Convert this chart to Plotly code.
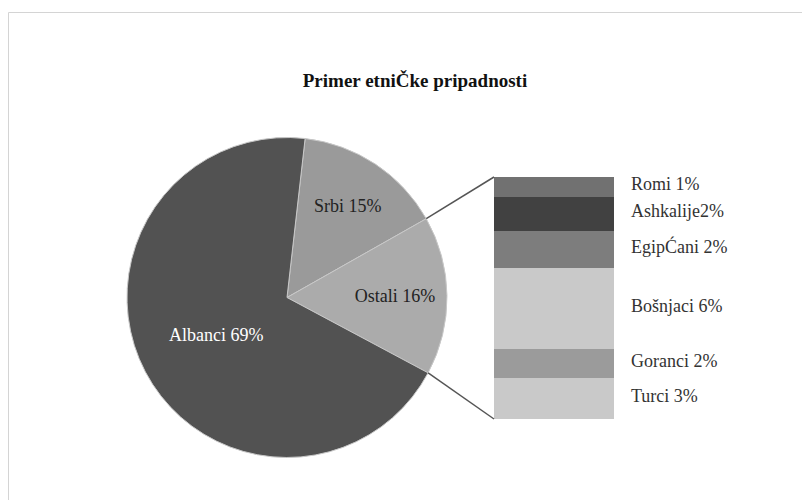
import math
import plotly.graph_objects as go

# main pie
pie_labels = ['Srbi', 'Ostali', 'Albanci']
pie_values = [15, 16, 69]
pie_colors = ['#9a9a9a', '#ababab', '#525252']

# breakdown of "Ostali" (bar heights, labels as printed)
bar_labels = ['Turci 3%', 'Goranci 2%', 'Bošnjaci 6%', 'EgipĆani 2%', 'Ashkalije2%', 'Romi 1%']
bar_values = [2.7, 1.9, 5.4, 2.4, 2.3, 1.3]
bar_colors = ['#c9c9c9', '#9b9b9b', '#c9c9c9', '#7d7d7d', '#414141', '#717171']

W, H = 810, 500
FONT = 'Liberation Serif'
OFF = 8  # page body margin, positions below are screen px minus this

# pie placement (paper)
pie_cx, pie_cy, pie_r = 287 - OFF, 297.5 - OFF, 160
pie_dom_x = [(pie_cx - pie_r) / W, (pie_cx + pie_r) / W]
pie_dom_y = [1 - (pie_cy + pie_r) / H, 1 - (pie_cy - pie_r) / H]
rotation = 6.5

# bar placement (paper)
bar_left, bar_right, bar_top, bar_bottom = 494 - OFF, 614 - OFF, 177 - OFF, 419 - OFF
bar_dom_x = [bar_left / W, bar_right / W]
bar_dom_y = [1 - bar_bottom / H, 1 - bar_top / H]

fig = go.Figure()

fig.add_trace(go.Pie(
    labels=pie_labels,
    values=pie_values,
    sort=False,
    direction='clockwise',
    rotation=rotation,
    marker=dict(colors=pie_colors, line=dict(color='#c8c8c8', width=1)),
    texttemplate='%{label} %{percent:.0%}',
    textposition='inside',
    insidetextorientation='horizontal',
    insidetextfont=dict(family=FONT, size=18, color=['#222222', '#222222', '#ffffff']),
    domain=dict(x=pie_dom_x, y=pie_dom_y),
    showlegend=False,
    hoverinfo='label+percent',
))

for lab, val, col in zip(bar_labels, bar_values, bar_colors):
    fig.add_trace(go.Bar(
        x=[0], y=[val], name=lab,
        marker=dict(color=col, line=dict(width=0)),
        width=1,
        showlegend=False,
        hovertemplate=lab + '<extra></extra>',
    ))

# labels next to the stack
cum = 0
for lab, val in zip(bar_labels, bar_values):
    fig.add_annotation(
        x=0.5, y=cum + val / 2, xref='x', yref='y',
        text=lab, showarrow=False, xanchor='left', xshift=15, yshift=3,
        font=dict(family=FONT, size=18, color='#333333'),
    )
    cum += val

# connector lines from the "Ostali" slice edges to the stack corners
total = sum(pie_values)
a0 = math.radians(rotation + 360 * pie_values[0] / total)
a1 = math.radians(rotation + 360 * (pie_values[0] + pie_values[1]) / total)
for ang, by in [(a0, bar_top), (a1, bar_bottom)]:
    px = pie_cx + pie_r * math.sin(ang)
    py = pie_cy - pie_r * math.cos(ang)
    fig.add_shape(type='line', xref='paper', yref='paper',
                  x0=px / W, y0=1 - py / H, x1=bar_left / W, y1=1 - by / H,
                  line=dict(color='#555555', width=1.5))

# chart frame
fig.add_shape(type='rect', xref='paper', yref='paper',
              x0=0.5 / W, y0=-0.05, x1=1.05, y1=1 - 4.5 / H,
              line=dict(color='#d4d4d4', width=1), layer='below')

fig.update_layout(
    width=W, height=H,
    margin=dict(l=0, r=0, t=0, b=0),
    paper_bgcolor='white', plot_bgcolor='white',
    barmode='stack', bargap=0,
    title=dict(text='<b>Primer etniČke pripadnosti</b>', x=(415 - OFF) / W, xanchor='center',
               y=1 - (80 - OFF) / H, yanchor='middle',
               font=dict(family=FONT, size=19, color='#111111')),
    xaxis=dict(domain=bar_dom_x, range=[-0.5, 0.5], visible=False, fixedrange=True),
    yaxis=dict(domain=bar_dom_y, range=[0, sum(bar_values)], visible=False, fixedrange=True),
)

fig.write_html('out.html')
